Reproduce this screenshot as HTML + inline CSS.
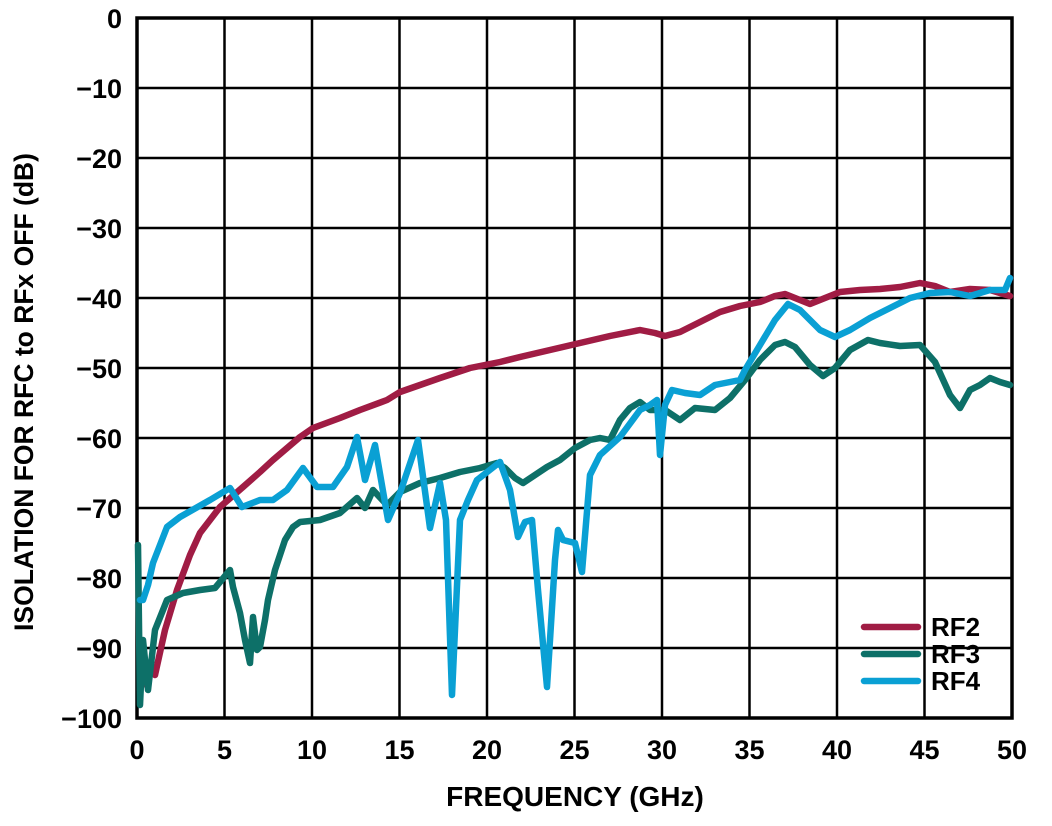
<!DOCTYPE html>
<html><head><meta charset="utf-8"><style>
html,body{margin:0;padding:0;background:#fff;}
svg{display:block;font-family:"Liberation Sans",Arial,sans-serif;font-weight:bold;}
</style></head><body>
<svg width="1052" height="826" viewBox="0 0 1052 826" xmlns="http://www.w3.org/2000/svg">
<rect width="1052" height="826" fill="#fff"/>
<g stroke="#000" stroke-width="2.5">
<line x1="224.5" y1="18" x2="224.5" y2="718"/><line x1="312" y1="18" x2="312" y2="718"/><line x1="399.5" y1="18" x2="399.5" y2="718"/><line x1="487" y1="18" x2="487" y2="718"/><line x1="574.5" y1="18" x2="574.5" y2="718"/><line x1="662" y1="18" x2="662" y2="718"/><line x1="749.5" y1="18" x2="749.5" y2="718"/><line x1="837" y1="18" x2="837" y2="718"/><line x1="924.5" y1="18" x2="924.5" y2="718"/>
<line x1="137" y1="88" x2="1012" y2="88"/><line x1="137" y1="158" x2="1012" y2="158"/><line x1="137" y1="228" x2="1012" y2="228"/><line x1="137" y1="298" x2="1012" y2="298"/><line x1="137" y1="368" x2="1012" y2="368"/><line x1="137" y1="438" x2="1012" y2="438"/><line x1="137" y1="508" x2="1012" y2="508"/><line x1="137" y1="578" x2="1012" y2="578"/><line x1="137" y1="648" x2="1012" y2="648"/>
</g>
<rect x="137" y="18" width="875" height="700" fill="none" stroke="#000" stroke-width="3.5"/>
<g fill="none" stroke-width="6.5" stroke-linejoin="round" stroke-linecap="round">
<polyline stroke="#a01c44" points="140,690 148,665 155,675 165,630 177,590 190,555 200,533 220,507 243,487 260,472 273,460 300,437 313,428 340,418 360,410 387,400 400,392 420,385 440,378 470,368 500,362 520,357 550,350 580,343 610,336 640,330 655,333 665,336 680,332 700,322 720,312 740,306 760,302 775,296 785,294 800,300 810,304 820,300 840,292 860,290 880,289 900,287 920,283 935,286 950,292 970,289 990,290 1010,296"/>
<polyline stroke="#0d7068" points="138,545 140,705 143,640 148,690 155,630 167,600 183,593 200,590 215,588 230,570 233,587 240,613 245,640 250,663 253,617 257,650 260,647 265,620 268,600 275,570 285,540 293,527 300,522 320,520 340,513 357,498 365,508 373,490 387,505 400,492 420,483 440,478 460,472 480,468 497,463 505,468 515,478 523,483 535,475 547,467 560,460 575,448 590,440 600,438 610,440 620,420 630,408 640,402 650,410 665,410 680,420 695,408 715,410 730,398 745,380 760,360 775,345 785,342 795,347 810,365 823,376 835,368 850,350 868,340 880,343 900,346 920,345 935,362 950,395 960,408 970,390 980,385 990,378 1000,382 1010,385"/>
<polyline stroke="#0aa0d4" points="140,600 143,600 148,585 153,563 167,527 180,517 210,500 230,488 242,507 260,500 273,500 287,490 303,468 317,487 333,487 347,467 357,437 365,480 375,445 388,520 400,493 418,440 430,528 440,483 446,520 452,695 460,520 468,500 477,480 500,462 510,490 518,537 525,522 532,520 538,590 547,687 550,640 555,560 558,530 563,540 575,543 582,572 590,475 600,455 620,437 640,410 650,405 657,400 660,455 665,405 672,390 685,393 700,395 715,385 740,380 745,370 760,345 775,320 788,304 800,310 820,330 835,337 850,330 870,318 890,308 910,298 930,293 950,292 970,296 990,290 1005,290 1010,278"/>
<line stroke="#a01c44" x1="864" y1="627" x2="918" y2="627"/>
<line stroke="#0d7068" x1="864" y1="654" x2="918" y2="654"/>
<line stroke="#0aa0d4" x1="864" y1="681" x2="918" y2="681"/>
</g>
<g font-size="26" fill="#000">
<text x="931" y="636">RF2</text><text x="931" y="663">RF3</text><text x="931" y="690">RF4</text>
</g>
<g font-size="27" fill="#000" text-anchor="end">
<text x="122" y="28">0</text><text x="122" y="98">−10</text><text x="122" y="168">−20</text><text x="122" y="238">−30</text><text x="122" y="308">−40</text><text x="122" y="378">−50</text><text x="122" y="448">−60</text><text x="122" y="518">−70</text><text x="122" y="588">−80</text><text x="122" y="658">−90</text><text x="122" y="728">−100</text>
</g>
<g font-size="27" fill="#000" text-anchor="middle">
<text x="137" y="759">0</text><text x="224.5" y="759">5</text><text x="312" y="759">10</text><text x="399.5" y="759">15</text><text x="487" y="759">20</text><text x="574.5" y="759">25</text><text x="662" y="759">30</text><text x="749.5" y="759">35</text><text x="837" y="759">40</text><text x="924.5" y="759">45</text><text x="1012" y="759">50</text>
<text x="575" y="806" font-size="28">FREQUENCY (GHz)</text>
<text transform="translate(33,392) rotate(-90)" font-size="26.5">ISOLATION FOR RFC to RFx OFF (dB)</text>
</g>
</svg>
</body></html>
